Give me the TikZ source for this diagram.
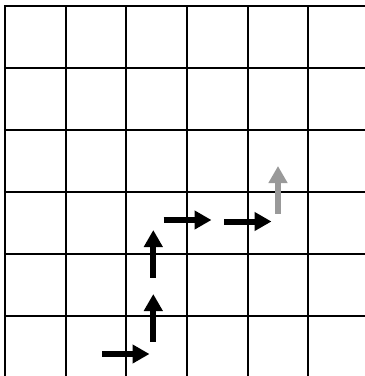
\documentclass[tikz,border=0pt]{standalone}
\usetikzlibrary{arrows.meta}
\definecolor{ghost}{HTML}{999999}
\tikzset{
  gridline/.style={line width=2pt, black},
  mv/.style={line width=6pt, -{Triangle[length=17pt,width=18pt]}},
}
\begin{document}
\begin{tikzpicture}[x=1pt,y=-1pt]
\useasboundingbox (0,0) rectangle (365,376);
\fill[white] (0,0) rectangle (365,376);
\begin{scope}
\clip (0,0) rectangle (365,376);
\foreach \i in {0,...,6} {
  \draw[gridline] ({5+60.67*\i},6) -- ({5+60.67*\i},380);
}
\foreach \j in {0,...,6} {
  \draw[gridline] (4,{6+62*\j}) -- (370,{6+62*\j});
}
\end{scope}
% arrow endpoints
\coordinate (a1s) at (102,354);   \coordinate (a1e) at (149.5,354);
\coordinate (a2s) at (153.3,341.5); \coordinate (a2e) at (153.3,294);
\coordinate (a3s) at (153.3,277.5); \coordinate (a3e) at (153.3,230);
\coordinate (a4s) at (163.5,220); \coordinate (a4e) at (211.5,220);
\coordinate (a5s) at (224,221.5); \coordinate (a5e) at (271.5,221.5);
\coordinate (a6s) at (278,213.5); \coordinate (a6e) at (278,166);
\draw[mv] (a1s) -- (a1e);
\draw[mv] (a2s) -- (a2e);
\draw[mv] (a3s) -- (a3e);
\draw[mv] (a4s) -- (a4e);
\draw[mv] (a5s) -- (a5e);
\draw[mv, ghost] (a6s) -- (a6e);
\end{tikzpicture}
\end{document}
